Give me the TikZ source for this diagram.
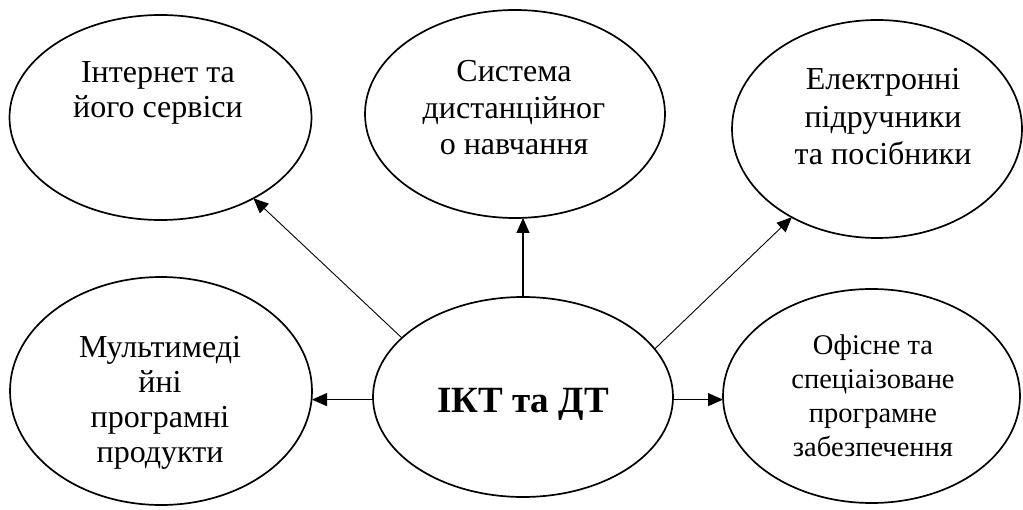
\documentclass[tikz,border=0pt]{standalone}
\usepackage{fontspec}
\setmainfont{Liberation Serif}
\usetikzlibrary{arrows.meta,shapes.geometric}
\newcommand\stacklines[1]{\vtop{\halign{\hfil##\hfil\cr#1\crcr}}}
\begin{document}
\begin{tikzpicture}[x=1pt,y=1pt,
  ell/.style={draw, ellipse, line width=1.7pt, inner sep=0pt, outer sep=0pt},
  txt/.style={inner sep=0pt, anchor=base},
  arr/.style={-{Triangle[length=15pt,width=13pt]}, line width=0.9pt},
  harr/.style={-{Triangle[length=15pt,width=13pt]}, line width=1.2pt}]
\useasboundingbox[fill=white] (0,0) rectangle (1023,509);
% ellipses
\node[ell, minimum width=302pt, minimum height=205pt] (inet) at (160.5,391.5) {};
\node[ell, minimum width=300pt, minimum height=208pt] (sys) at (515,395) {};
\node[ell, minimum width=290pt, minimum height=218pt] (el) at (877,380) {};
\node[ell, minimum width=302pt, minimum height=228pt] (mm) at (161,118) {};
\node[ell, minimum width=300pt, minimum height=200pt] (ikt) at (523,112) {};
\node[ell, minimum width=297pt, minimum height=214pt] (of) at (871.5,113) {};
% texts
\node[txt, font=\fontsize{32}{35}\selectfont] (tinet) at (158,426) {\stacklines{Інтернет та\cr його сервіси}};
\node[txt, font=\fontsize{32}{36.5}\selectfont] (tsys) at (514,427) {\stacklines{Система\cr дистанційног\cr о навчання}};
\node[txt, font=\fontsize{32}{37.5}\selectfont] (tel) at (883,419) {\stacklines{Електронні\cr підручники\cr та посібники}};
\node[txt, font=\fontsize{32}{35}\selectfont] (tmm) at (160,151) {\stacklines{Мультимеді\cr йні\cr програмні\cr продукти}};
\node[txt, font=\fontsize{37}{40}\selectfont\bfseries] (tikt) at (523,96) {ІКТ та ДТ};
\node[txt, font=\fontsize{28.5}{34}\selectfont] (tof) at (873,154) {\stacklines{Офісне та\cr спеціаізоване\cr програмне\cr забезпечення}};
% connectors
\draw[arr] (ikt.154.9) -- (inet.319.6);
\draw[harr] (ikt.north) -- (ikt.north |- sys.south);
\draw[arr] (ikt.20.4) -- (el.226);
\draw[harr] (ikt.181) -- (ikt.181 -| mm.east);
\draw[harr] (ikt.359) -- (ikt.359 -| of.west);
\end{tikzpicture}
\end{document}
